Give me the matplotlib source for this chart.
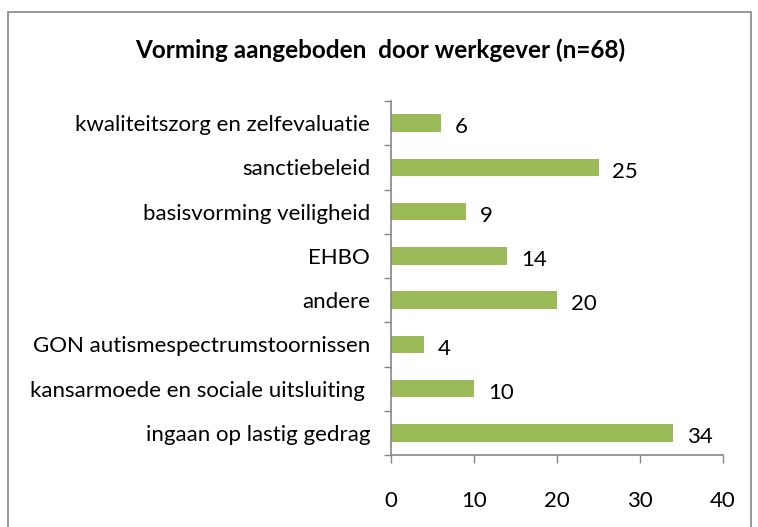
#=======================================================================
# Horizontal bar chart: Vorming aangeboden door werkgever
#=======================================================================
import numpy as np
import matplotlib.pyplot as plt
from matplotlib.patches import Rectangle

# DATA -----------------------------------------------------------------
categories = ["kwaliteitszorg en zelfevaluatie", "sanctiebeleid",
              "basisvorming veiligheid", "EHBO", "andere",
              "GON autismespectrumstoornissen",
              "kansarmoede en sociale uitsluiting ",
              "ingaan op lastig gedrag"]
values = [6, 25, 9, 14, 20, 4, 10, 34]
x_ticks = [0, 10, 20, 30, 40]
title = "Vorming aangeboden  door werkgever (n=68)"

# STYLE ----------------------------------------------------------------
BAR_COLOR = "#9BBB59"
AXIS_COLOR = "#868686"
plt.rcParams['font.family'] = ['Lato', 'DejaVu Sans']

fig = plt.figure(figsize=(7.58, 5.27), dpi=100)

# outer chart frame
fig.patches.append(Rectangle((8 / 758, -0.05), (751 - 8) / 758, 1.05 - 12 / 527,
                             transform=fig.transFigure, fill=False,
                             edgecolor=AXIS_COLOR, linewidth=1.2))

ax = fig.add_axes([391 / 758, 1 - 455 / 527, (723 - 391) / 758, (455 - 101) / 527])

n = len(categories)
ypos = np.arange(n)[::-1]
ax.barh(ypos, values, height=0.4, color=BAR_COLOR)

for y, v in zip(ypos, values):
    ax.annotate(str(v), (v, y), xytext=(10, -3), textcoords="offset points",
                ha="left", va="center", fontsize=16)

ax.set_xlim(0, 40)
ax.set_ylim(-0.5, n - 0.5)
ax.set_xticks(x_ticks)
ax.set_xticklabels([str(t) for t in x_ticks], fontsize=16)
ax.tick_params(axis="x", length=6, width=1, color=AXIS_COLOR, pad=20,
               direction="out")

# category labels centred, ticks at the boundaries
ax.set_yticks(ypos)
ax.set_yticklabels(categories, fontsize=16)
ax.tick_params(axis="y", length=0, pad=15)
ax.set_yticks(np.arange(-0.5, n, 1), minor=True)
ax.tick_params(axis="y", which="minor", length=5, width=1, color=AXIS_COLOR)

for side in ["top", "right"]:
    ax.spines[side].set_visible(False)
for side in ["left", "bottom"]:
    ax.spines[side].set_color(AXIS_COLOR)
    ax.spines[side].set_linewidth(1.2)

fig.text(380 / 758, 1 - 50 / 527, title, ha="center", va="center",
         fontsize=17.5, fontweight="bold")

fig.savefig("out.png", dpi=100)
